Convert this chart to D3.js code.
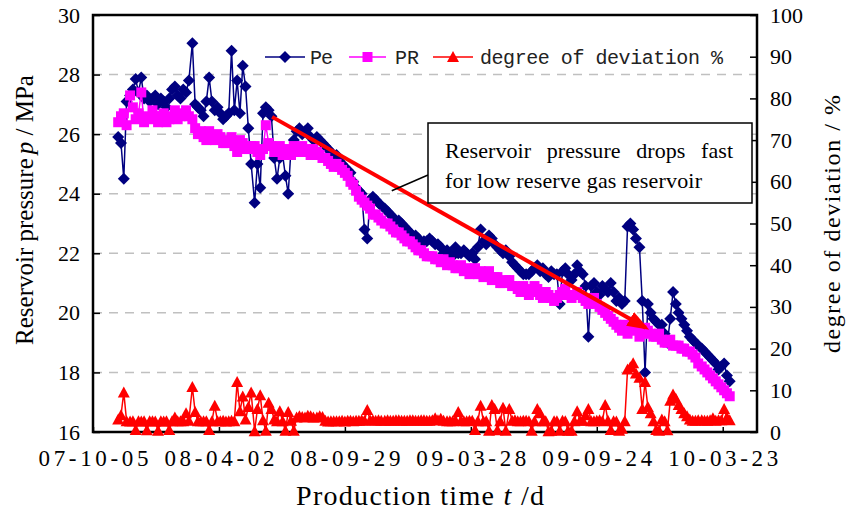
<!DOCTYPE html>
<html>
<head>
<meta charset="utf-8">
<script src="https://cdn.jsdelivr.net/npm/d3@7"></script>
<style>
  body { margin: 0; background: #fff; }
</style>
</head>
<body>
<div id="chart"></div>
<script>
// tick labels of the time axis (yy-mm-dd)
var tickLabels = ["07-10-05", "08-04-02", "08-09-29", "09-03-28", "09-09-24", "10-03-23"];

// sample days, counted from 07-10-05
var sampleDay = [36, 40, 44, 48, 53, 57, 61, 65, 69, 73,
  77, 81, 85, 89, 93, 97, 101, 105, 109, 113,
  117, 121, 125, 129, 133, 137, 142, 146, 150, 154,
  158, 162, 166, 170, 174, 178, 182, 186, 190, 194,
  198, 202, 206, 210, 214, 218, 222, 226, 231, 235,
  239, 243, 247, 251, 255, 259, 263, 267, 271, 275,
  279, 283, 287, 291, 295, 299, 303, 307, 311, 315,
  320, 324, 328, 332, 336, 340, 344, 348, 352, 356,
  360, 364, 368, 372, 376, 380, 384, 388, 392, 396,
  400, 404, 408, 412, 417, 421, 425, 429, 433, 437,
  441, 445, 449, 453, 457, 461, 465, 469, 473, 477,
  481, 485, 489, 493, 497, 501, 506, 510, 514, 518,
  522, 526, 530, 534, 538, 542, 546, 550, 554, 558,
  562, 566, 570, 574, 578, 582, 586, 590, 595, 599,
  603, 607, 611, 615, 619, 623, 627, 631, 635, 639,
  643, 647, 651, 655, 659, 663, 667, 671, 675, 679,
  684, 688, 692, 696, 700, 704, 708, 712, 716, 720,
  724, 728, 732, 736, 740, 744, 748, 752, 756, 760,
  764, 768, 772, 776, 781, 785, 789, 793, 797, 801,
  805, 809, 813, 817, 821, 825, 829, 833, 837, 841,
  845, 849, 853, 857, 861, 865, 870, 874, 878, 882,
  886, 890, 894, 898, 902, 906, 910];

// Pe, MPa
var peValues = [25.9, 25.7, 24.5, 27.1, 27.3, 27.5, 27.85, 27.4, 27.9, 27.2,
  27.3, 27.1, 27.2, 27.3, 27.0, 27.2, 27.1, 26.9, 27.2, 27.5,
  27.6, 27.3, 27.2, 27.5, 27.4, 27.8, 29.05, 27.0, 26.9, 26.8,
  26.6, 27.1, 27.9, 27.1, 26.8, 26.9, 26.7, 26.5, 26.6, 26.7,
  28.8, 26.8, 27.8, 26.7, 28.3, 27.6, 26.2, 25.0, 23.7, 25.0,
  24.2, 26.7, 26.9, 26.8, 26.6, 25.2, 24.5, 25.2, 25.3, 24.6,
  24.0, 25.5, 25.8, 26.1, 26.2, 26.0, 26.1, 26.2, 25.9, 25.8,
  25.9, 25.8, 25.7, 25.6, 25.5, 25.4, 25.3, 25.3, 25.1, 25.0,
  24.9, 24.8, 24.7, 24.4, 24.2, 24.1, 24.0, 22.8, 22.5, 23.8,
  23.9, 23.8, 23.7, 23.6, 23.5, 23.4, 23.3, 23.2, 23.1, 23.1,
  23.0, 22.9, 22.8, 22.7, 22.6, 22.6, 22.5, 22.3, 22.4, 22.4,
  22.5, 22.4, 22.3, 22.3, 22.2, 22.0, 22.1, 22.0, 21.9, 22.2,
  22.0, 22.0, 22.1, 22.0, 21.9, 22.0, 21.8, 22.2, 22.8, 22.4,
  22.3, 22.6, 22.5, 22.3, 22.2, 22.1, 22.0, 22.1, 21.9, 21.7,
  21.6, 21.5, 21.4, 21.3, 21.3, 21.3, 21.4, 21.5, 21.6, 21.4,
  21.5, 21.3, 21.2, 21.4, 21.3, 21.3, 20.3, 21.4, 21.5, 21.3,
  21.1, 21.3, 21.6, 21.4, 21.3, 20.9, 19.2, 20.9, 21.0, 20.7,
  20.6, 20.9, 20.8, 20.7, 21.0, 20.7, 20.4, 20.5, 20.3, 20.4,
  22.9, 23.0, 22.8, 22.5, 22.2, 20.4, 18.0, 20.3, 20.0, 19.8,
  19.7, 19.6, 19.6, 19.3, 19.0, 19.8, 20.7, 20.3, 20.0, 19.8,
  19.6, 19.4, 19.2, 19.1, 19.0, 18.9, 18.8, 18.7, 18.6, 18.5,
  18.4, 18.3, 18.1, 18.2, 18.3, 17.9, 17.7];

// PR, MPa
var prValues = [26.4, 26.6, 26.7, 26.3, 27.3, 26.9, 26.5, 26.7, 27.4, 26.4,
  26.6, 26.5, 26.8, 26.6, 26.4, 26.6, 26.7, 26.4, 26.5, 26.6,
  26.8, 26.5, 26.6, 26.7, 26.8, 26.6, 26.5, 26.2, 26.0, 26.1,
  25.9, 25.8, 26.1, 25.9, 25.8, 26.0, 25.9, 25.7, 25.7, 25.8,
  25.9, 25.6, 25.4, 25.8, 25.7, 25.5, 25.5, 25.6, 25.6, 25.4,
  25.3, 25.5, 26.3, 25.7, 25.6, 25.4, 25.5, 25.6, 25.3, 25.5,
  25.4, 25.3, 25.6, 25.5, 25.4, 25.6, 25.5, 25.4, 25.3, 25.5,
  25.4, 25.3, 25.2, 25.2, 25.1, 25.0, 24.9, 25.0, 24.9, 24.8,
  24.7, 24.6, 24.4, 24.3, 24.1, 23.9, 23.8, 23.7, 23.6, 23.5,
  23.3, 23.3, 23.2, 23.1, 23.0, 23.0, 22.9, 22.8, 22.7, 22.7,
  22.6, 22.5, 22.4, 22.4, 22.3, 22.2, 22.1, 22.1, 22.0, 21.9,
  21.9, 21.9, 21.8, 21.8, 21.7, 21.8, 21.6, 21.7, 21.6, 21.5,
  21.5, 21.6, 21.4, 21.5, 21.3, 21.4, 21.5, 21.3, 21.4, 21.2,
  21.3, 21.4, 21.1, 21.2, 21.2, 21.0, 21.0, 21.1, 21.1, 20.9,
  20.9, 20.8, 20.7, 20.9, 20.8, 20.6, 20.7, 20.9, 20.8, 20.6,
  20.5, 20.7, 20.6, 20.5, 20.4, 20.5, 20.6, 20.7, 20.8, 20.6,
  20.5, 20.6, 20.7, 20.6, 20.5, 20.4, 20.3, 20.4, 20.5, 20.3,
  20.2, 20.1, 20.0, 19.9, 19.8, 19.7, 19.6, 19.5, 19.4, 19.6,
  19.3, 19.5, 19.7, 19.4, 19.2, 19.3, 19.5, 19.4, 19.3, 19.2,
  19.2, 19.3, 19.1, 19.0, 19.0, 19.1, 18.9, 18.9, 18.9, 18.8,
  18.8, 18.7, 18.7, 18.6, 18.5, 18.3, 18.2, 18.1, 18.0, 17.9,
  17.8, 17.7, 17.6, 17.5, 17.4, 17.3, 17.2];

// degree of deviation, %
var devValues = [3.0, 4.0, 9.5, 2.6, 2.5, 2.6, 0.5, 2.6, 2.5, 2.6,
  0.4, 2.6, 2.6, 2.5, 0.3, 2.6, 2.5, 2.6, 0.5, 2.6,
  3.5, 2.6, 2.6, 2.6, 4.5, 2.7, 10.8, 4.8, 2.6, 2.6,
  2.6, 2.6, 0.5, 2.6, 6.3, 2.6, 2.6, 2.7, 2.5, 2.6,
  2.7, 2.6, 12.0, 5.0, 8.5, 3.0, 6.0, 9.5, 0.2, 5.5,
  8.8, 2.8, 0.3, 7.0, 5.5, 3.0, 2.6, 5.0, 2.6, 0.3,
  4.8, 2.7, 0.3, 3.5, 3.8, 3.6, 3.5, 3.9, 3.8, 3.5,
  3.5, 3.8, 3.6, 2.7, 2.5, 2.6, 2.6, 2.6, 2.6, 2.7,
  2.5, 2.7, 2.7, 2.6, 2.7, 2.7, 2.8, 2.7, 5.3, 2.8,
  2.8, 2.7, 2.8, 2.7, 2.7, 2.8, 2.7, 2.7, 2.8, 2.8,
  2.7, 2.7, 2.7, 2.8, 2.8, 2.7, 2.7, 2.8, 2.8, 2.7,
  2.7, 2.8, 3.3, 2.8, 3.2, 2.7, 2.6, 2.6, 2.6, 2.7,
  4.8, 2.7, 2.6, 2.6, 2.7, 2.7, 0.5, 2.6, 6.3, 2.6,
  2.6, 0.3, 6.5, 5.5, 0.4, 2.6, 5.8, 0.3, 5.5, 2.7,
  2.8, 2.6, 2.6, 2.7, 2.7, 2.6, 0.3, 2.6, 5.5, 4.5,
  2.6, 2.6, 0.2, 0.3, 2.6, 2.6, 0.3, 2.7, 2.6, 0.3,
  0.3, 2.6, 5.0, 2.7, 2.7, 4.0, 5.5, 2.6, 2.6, 2.7,
  2.8, 2.6, 6.5, 2.7, 0.5, 2.6, 2.5, 0.3, 0.8, 2.6,
  15.0, 15.5, 16.5, 14.0, 13.0, 5.5, 12.0, 6.0, 4.5, 2.6,
  0.5, 0.3, 3.0, 2.6, 0.4, 7.5, 9.0, 8.0, 6.5, 5.5,
  4.5, 3.8, 3.0, 2.7, 2.7, 2.8, 2.8, 2.7, 2.7, 2.8,
  3.3, 2.7, 2.8, 2.8, 5.5, 3.5, 2.8];

var width = 853, height = 513;
var plot = { left: 93, right: 757, top: 15, bottom: 432 };
var serif = "Liberation Serif";

var parseDate = d3.utcParse("%y-%m-%d");
var startDate = parseDate(tickLabels[0]);
var tickDates = tickLabels.map(function (d) { return parseDate(d); });

var rows = sampleDay.map(function (d, i) {
  return { date: d3.utcDay.offset(startDate, d), pe: peValues[i], pr: prValues[i], dev: devValues[i] };
});

var svg = d3.select("#chart").append("svg")
  .attr("width", width)
  .attr("height", height)
  .attr("font-family", serif);

var x = d3.scaleUtc()
  .domain([startDate, d3.utcDay.offset(startDate, 949)])
  .range([plot.left, plot.right]);

var y = d3.scaleLinear().domain([16, 30]).range([plot.bottom, plot.top]);
var y2 = d3.scaleLinear().domain([0, 100]).range([plot.bottom, plot.top]);

// dashed grid
svg.append("g")
  .selectAll("line")
  .data([18, 20, 22, 24, 26, 28]).enter().append("line")
  .attr("x1", plot.left).attr("x2", plot.right)
  .attr("y1", function (d) { return y(d); })
  .attr("y2", function (d) { return y(d); })
  .style("stroke", "#c0c0c0")
  .style("stroke-width", 1.5)
  .style("stroke-dasharray", "9,7");

// axes
var leftAxis = svg.append("g")
  .attr("transform", "translate(" + plot.left + ",0)")
  .call(d3.axisLeft(y).tickValues(d3.range(16, 31, 2)).tickSize(-7).tickPadding(13));

var rightAxis = svg.append("g")
  .attr("transform", "translate(" + plot.right + ",0)")
  .call(d3.axisRight(y2).tickValues(d3.range(0, 101, 10)).tickSize(-7).tickPadding(13));

var bottomAxis = svg.append("g")
  .attr("transform", "translate(0," + plot.bottom + ")")
  .call(d3.axisBottom(x).tickValues(tickDates).tickSize(-5).tickPadding(18)
    .tickFormat(d3.utcFormat("%y-%m-%d")));

[leftAxis, rightAxis, bottomAxis].forEach(function (a) {
  a.attr("font-family", serif);
  a.select(".domain").remove();
  a.selectAll(".tick line").style("stroke", "#000").style("stroke-width", 1.5);
  a.selectAll("text").style("font-size", "22px").attr("fill", "#000");
});
bottomAxis.selectAll("text")
  .style("font-size", "23px")
  .attr("textLength", 110)
  .attr("lengthAdjust", "spacing");

// frame
svg.append("rect")
  .attr("x", plot.left).attr("y", plot.top)
  .attr("width", plot.right - plot.left)
  .attr("height", plot.bottom - plot.top)
  .style("fill", "none")
  .style("stroke", "#000")
  .style("stroke-width", 2.5);

var diamond = "M0,-6L6,0L0,6L-6,0Z";
var square = "M-5,-5L5,-5L5,5L-5,5Z";
var triangle = "M0,-6L6,5L-6,5Z";

function drawSeries(key, scale, color, shape) {
  var line = d3.line()
    .x(function (d) { return x(d.date); })
    .y(function (d) { return scale(d[key]); });
  svg.append("path")
    .datum(rows)
    .attr("d", line)
    .style("fill", "none")
    .style("stroke", color)
    .style("stroke-width", 1.5);
  svg.append("g")
    .selectAll("path")
    .data(rows).enter().append("path")
    .attr("d", shape)
    .attr("transform", function (d) {
      return "translate(" + x(d.date) + "," + scale(d[key]) + ")";
    })
    .style("fill", color);
}

drawSeries("pe", y, "#000080", diamond);
drawSeries("pr", y, "#ff00ff", square);
drawSeries("dev", y2, "#ff0000", triangle);

// red trend arrow
svg.append("defs").append("marker")
  .attr("id", "head")
  .attr("markerUnits", "userSpaceOnUse")
  .attr("viewBox", "0 -9 22 18")
  .attr("markerWidth", 22).attr("markerHeight", 18)
  .attr("refX", 18).attr("refY", 0)
  .attr("orient", "auto")
  .append("path")
  .attr("d", "M0,-8L22,0L0,8Z")
  .style("fill", "#ff0000");

var arrowFrom = { date: d3.utcDay.offset(startDate, 256), p: 26.58 };
var arrowTo = { date: d3.utcDay.offset(startDate, 790), p: 19.5 };
svg.append("line")
  .attr("x1", x(arrowFrom.date)).attr("y1", y(arrowFrom.p))
  .attr("x2", x(arrowTo.date)).attr("y2", y(arrowTo.p))
  .style("stroke", "#ff0000")
  .style("stroke-width", 4)
  .attr("marker-end", "url(#head)");

// callout
var pin = { date: d3.utcDay.offset(startDate, 427), p: 24.1 };
svg.append("line")
  .attr("x1", 428).attr("y1", 175)
  .attr("x2", x(pin.date)).attr("y2", y(pin.p))
  .style("stroke", "#000")
  .style("stroke-width", 1.5);

svg.append("rect")
  .attr("x", 428).attr("y", 123)
  .attr("width", 324).attr("height", 80)
  .style("fill", "#fff")
  .style("stroke", "#000")
  .style("stroke-width", 1.5);

svg.append("text")
  .attr("x", 445).attr("y", 158)
  .attr("textLength", 288)
  .attr("lengthAdjust", "spacing")
  .style("font-size", "22px")
  .style("word-spacing", "10px")
  .text("Reservoir pressure drops fast");
svg.append("text")
  .attr("x", 445).attr("y", 188)
  .attr("textLength", 257)
  .attr("lengthAdjust", "spacing")
  .style("font-size", "22px")
  .text("for low reserve gas reservoir");

// legend
var legendItems = [
  { name: "Pe", color: "#000080", shape: diamond, x0: 265, x1: 305, tx: 310, tw: 23 },
  { name: "PR", color: "#ff00ff", shape: square, x0: 349, x1: 386, tx: 395, tw: 24 },
  { name: "degree of deviation %", color: "#ff0000", shape: triangle, x0: 433, x1: 473, tx: 480, tw: 243 }
];
var legend = svg.append("g").selectAll("g")
  .data(legendItems).enter().append("g");
legend.append("line")
  .attr("x1", function (d) { return d.x0; })
  .attr("x2", function (d) { return d.x1; })
  .attr("y1", 57).attr("y2", 57)
  .style("stroke", function (d) { return d.color; })
  .style("stroke-width", 1.5);
legend.append("path")
  .attr("d", function (d) { return d.shape; })
  .attr("transform", function (d) { return "translate(" + (d.x0 + d.x1) / 2 + ",57)"; })
  .style("fill", function (d) { return d.color; });
legend.append("text")
  .attr("x", function (d) { return d.tx; })
  .attr("y", 64)
  .attr("font-family", "Liberation Mono")
  .attr("textLength", function (d) { return d.tw; })
  .attr("lengthAdjust", "spacing")
  .style("font-size", "20px")
  .style("fill", "#222")
  .text(function (d) { return d.name; });

// axis titles
var xTitle = svg.append("text")
  .attr("x", 420).attr("y", 505)
  .attr("text-anchor", "middle")
  .attr("textLength", 248)
  .attr("lengthAdjust", "spacing")
  .style("font-size", "28px");
xTitle.append("tspan").text("Production time ");
xTitle.append("tspan").style("font-style", "italic").text("t");
xTitle.append("tspan").text("  /d");

var yTitle = svg.append("text")
  .attr("transform", "translate(33,210) rotate(-90)")
  .attr("text-anchor", "middle")
  .style("font-size", "25px");
yTitle.append("tspan").text("Reservoir pressure");
yTitle.append("tspan").attr("dx", 4).style("font-style", "italic").text("p");
yTitle.append("tspan").text(" / MPa");

svg.append("text")
  .attr("transform", "translate(840,224) rotate(-90)")
  .attr("text-anchor", "middle")
  .attr("textLength", 258)
  .attr("lengthAdjust", "spacing")
  .style("font-size", "24px")
  .text("degree of deviation / %");
</script>
</body>
</html>
